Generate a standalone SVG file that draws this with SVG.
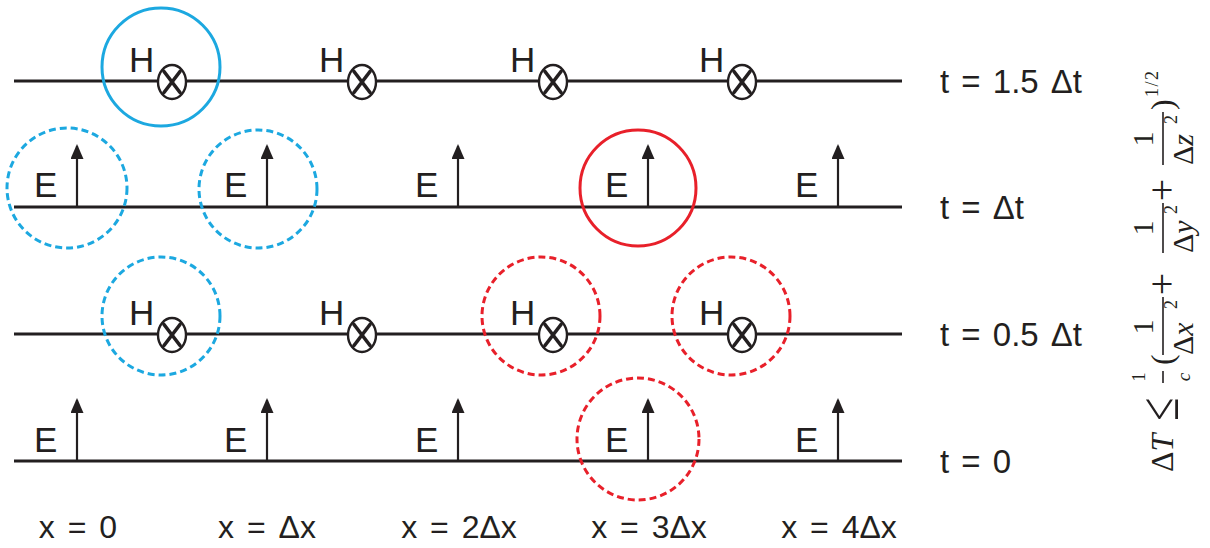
<svg xmlns="http://www.w3.org/2000/svg" width="1210" height="548" viewBox="0 0 1210 548">
<style>
.axis{stroke:#231f20;stroke-width:2.8;fill:none}
.ef{stroke:#231f20;stroke-width:2.2;fill:none}
.lab{font-family:"Liberation Sans",Arial,sans-serif;fill:#231f20}
.node{font-family:"Liberation Sans",Arial,sans-serif;font-size:35px;fill:#231f20}
.hx{fill:#fff;stroke:#231f20;stroke-width:2.4}
.hxl{stroke:#231f20;stroke-width:3.6;stroke-linecap:round}
.bs{fill:none;stroke:#1ca8e0;stroke-width:3}
.bd{fill:none;stroke:#1ca8e0;stroke-width:3;stroke-dasharray:7 4}
.rs{fill:none;stroke:#e8202a;stroke-width:3}
.rd{fill:none;stroke:#e8202a;stroke-width:3;stroke-dasharray:7 4}
.m{font-family:"Liberation Serif","Times New Roman",serif;fill:#231f20}
.bar{stroke:#231f20;stroke-width:1.6}
</style>
<defs>
<marker id="ah" markerUnits="userSpaceOnUse" markerWidth="16" markerHeight="14" refX="13" refY="6.5" orient="auto">
<path d="M0,0 L15,6.5 L0,13 z" fill="#231f20"/>
</marker>
<g id="hsym">
<ellipse cx="0" cy="0" rx="14" ry="17" class="hx"/>
<line x1="-8" y1="-10.5" x2="8" y2="10.5" class="hxl"/>
<line x1="8" y1="-10.5" x2="-8" y2="10.5" class="hxl"/>
</g>
</defs>

<g id="connectors">
<line class="axis" x1="14" y1="81" x2="902" y2="81"/>
<line class="axis" x1="14" y1="207" x2="902" y2="207"/>
<line class="axis" x1="14" y1="334" x2="902" y2="334"/>
<line class="axis" x1="14" y1="461" x2="902" y2="461"/>
</g>

<g id="row-1-5dt">
<g id="h1-0"><text class="node" x="129" y="72">H</text><use href="#hsym" x="172" y="82"/></g>
<g id="h1-1"><text class="node" x="319" y="72">H</text><use href="#hsym" x="362" y="82"/></g>
<g id="h1-2"><text class="node" x="510" y="72">H</text><use href="#hsym" x="553" y="82"/></g>
<g id="h1-3"><text class="node" x="699" y="72">H</text><use href="#hsym" x="742" y="82"/></g>
</g>

<g id="row-dt">
<g id="e1-0"><text class="node" x="34" y="197">E</text><line class="ef" x1="77" y1="207" x2="77" y2="146" marker-end="url(#ah)"/></g>
<g id="e1-1"><text class="node" x="224" y="197">E</text><line class="ef" x1="267" y1="207" x2="267" y2="146" marker-end="url(#ah)"/></g>
<g id="e1-2"><text class="node" x="415" y="197">E</text><line class="ef" x1="458" y1="207" x2="458" y2="146" marker-end="url(#ah)"/></g>
<g id="e1-3"><text class="node" x="605" y="197">E</text><line class="ef" x1="648" y1="207" x2="648" y2="146" marker-end="url(#ah)"/></g>
<g id="e1-4"><text class="node" x="795" y="197">E</text><line class="ef" x1="838" y1="207" x2="838" y2="146" marker-end="url(#ah)"/></g>
</g>

<g id="row-0-5dt">
<g id="h0-0"><text class="node" x="129" y="325">H</text><use href="#hsym" x="172" y="335"/></g>
<g id="h0-1"><text class="node" x="319" y="325">H</text><use href="#hsym" x="362" y="335"/></g>
<g id="h0-2"><text class="node" x="510" y="325">H</text><use href="#hsym" x="553" y="335"/></g>
<g id="h0-3"><text class="node" x="699" y="325">H</text><use href="#hsym" x="742" y="335"/></g>
</g>

<g id="row-0">
<g id="e0-0"><text class="node" x="34" y="452">E</text><line class="ef" x1="77" y1="461" x2="77" y2="400" marker-end="url(#ah)"/></g>
<g id="e0-1"><text class="node" x="224" y="452">E</text><line class="ef" x1="267" y1="461" x2="267" y2="400" marker-end="url(#ah)"/></g>
<g id="e0-2"><text class="node" x="415" y="452">E</text><line class="ef" x1="458" y1="461" x2="458" y2="400" marker-end="url(#ah)"/></g>
<g id="e0-3"><text class="node" x="605" y="452">E</text><line class="ef" x1="648" y1="461" x2="648" y2="400" marker-end="url(#ah)"/></g>
<g id="e0-4"><text class="node" x="795" y="452">E</text><line class="ef" x1="838" y1="461" x2="838" y2="400" marker-end="url(#ah)"/></g>
</g>

<g id="highlights">
<circle class="bs" cx="161" cy="67" r="59"/>
<circle class="bd" cx="67" cy="188" r="60"/>
<circle class="bd" cx="258" cy="189" r="59"/>
<circle class="rs" cx="638" cy="188" r="58"/>
<circle class="bd" cx="161" cy="316" r="59"/>
<circle class="rd" cx="541" cy="316" r="59"/>
<circle class="rd" cx="731" cy="316" r="59"/>
<circle class="rd" cx="638" cy="439" r="61"/>
</g>

<g id="time-labels" class="lab" font-size="33" word-spacing="3">
<text x="940" y="93">t = 1.5 Δt</text>
<text x="940" y="219">t = Δt</text>
<text x="940" y="346">t = 0.5 Δt</text>
<text x="940" y="473">t = 0</text>
</g>

<g id="x-labels" class="lab" font-size="32" word-spacing="4" text-anchor="middle">
<text x="78" y="538">x = 0</text>
<text x="267" y="538">x = Δx</text>
<text x="459" y="538">x = 2Δx</text>
<text x="649" y="538">x = 3Δx</text>
<text x="839" y="538">x = 4Δx</text>
</g>

<g id="formula" transform="translate(1150,475) rotate(-90)" class="m">
<text x="3" y="23" font-size="32">Δ<tspan font-style="italic">T</tspan></text>
<text transform="translate(66,28) scale(0.75,1)" font-size="56" text-anchor="middle">≤</text>
<text x="98" y="-5" font-size="18" text-anchor="middle">1</text>
<line class="bar" x1="92" y1="13" x2="104" y2="13" stroke-width="1.2"/>
<text x="98" y="40" font-size="19" font-style="italic" text-anchor="middle">c</text>
<text x="110" y="23" font-size="32">(</text>
<text x="148" y="3" font-size="30" text-anchor="middle">1</text>
<line class="bar" x1="120" y1="13" x2="178" y2="13"/>
<text x="120" y="43" font-size="30">Δ<tspan font-style="italic">x</tspan></text>
<text x="166" y="27" font-size="18">2</text>
<text x="191" y="25" font-size="40" text-anchor="middle">+</text>
<text x="247" y="3" font-size="30" text-anchor="middle">1</text>
<line class="bar" x1="222" y1="13" x2="272" y2="13"/>
<text x="222" y="43" font-size="30">Δ<tspan font-style="italic">y</tspan></text>
<text x="261" y="27" font-size="18">2</text>
<text x="285" y="25" font-size="40" text-anchor="middle">+</text>
<text x="336" y="3" font-size="30" text-anchor="middle">1</text>
<line class="bar" x1="310" y1="13" x2="363" y2="13"/>
<text x="310" y="43" font-size="30">Δ<tspan font-style="italic">z</tspan></text>
<text x="351" y="27" font-size="18">2</text>
<text x="365" y="23" font-size="32">)</text>
<text x="378" y="8" font-size="18" textLength="26">1/2</text>
</g>
</svg>
